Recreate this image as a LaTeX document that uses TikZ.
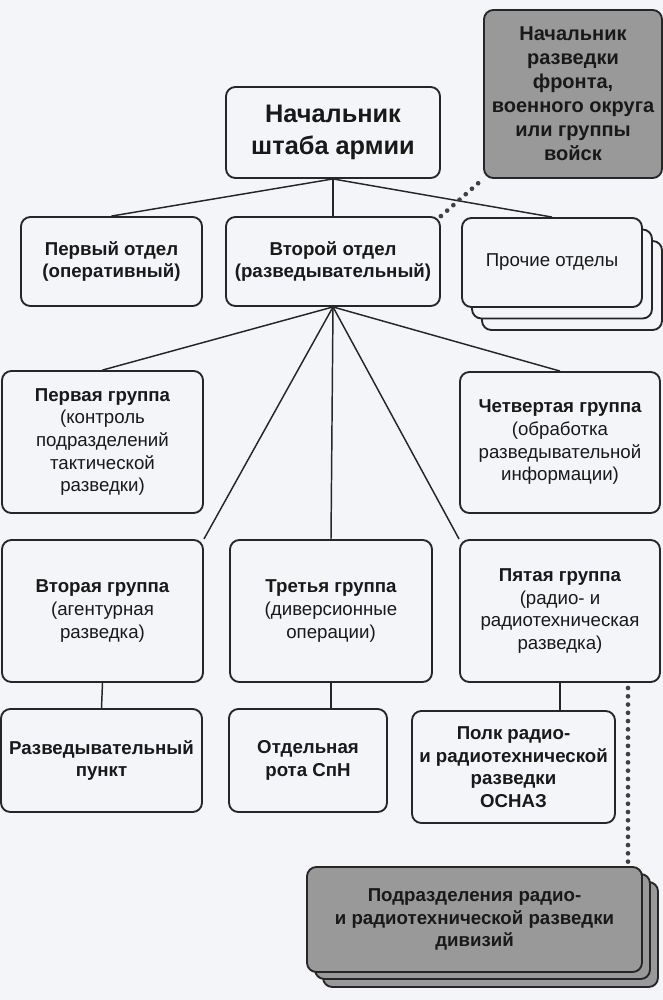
\documentclass[tikz,border=0pt]{standalone}
\usepackage{fontspec}
\setmainfont{Liberation Sans}
\usetikzlibrary{calc}

\definecolor{paper}{RGB}{244,245,248}

\tikzset{
  box/.style={draw=black!85, line width=1.4pt, rounded corners=7pt, fill=paper,
    align=center, inner sep=2pt, text=black!90, font=\fontsize{14}{17}\selectfont},
  greybox/.style={box, fill=black!40},
  wh/.style 2 args={minimum width=#1*0.75pt, minimum height=#2*0.75pt},
  link/.style={draw=black!85, line width=1.1pt},
  dots/.style={draw=black!75, line width=3.5pt, line cap=round, dash pattern=on 0pt off 6.2pt},
}

\begin{document}
\begin{tikzpicture}[x=0.75pt,y=-0.75pt]
  \fill[paper] (0,0) rectangle (663,1000);
  \useasboundingbox (0,0) rectangle (663,1000);

  % top level
  \node[box,wh={214}{91},font=\bfseries\fontsize{19}{24}\selectfont] (chief) at (333,132.5) {Начальник\\штаба армии};
  \node[greybox,wh={178}{168},font=\bfseries\fontsize{15}{18}\selectfont] (front) at (573,94)
    {Начальник\\разведки\\фронта,\\военного округа\\или группы\\войск};

  % departments
  \node[box,wh={181}{89},font=\bfseries\fontsize{14}{17}\selectfont] (otd1) at (111.5,261.5) {Первый отдел\\(оперативный)};
  \node[box,wh={214}{89},font=\bfseries\fontsize{14}{17}\selectfont] (otd2) at (333,261.5) {Второй отдел\\(разведывательный)};
  \node[box,wh={180}{89}] (prochieC) at (572,285.5) {};
  \node[box,wh={180}{89}] (prochieB) at (562,274) {};
  \node[box,wh={180}{89}] (prochie) at (552,262.5) {Прочие отделы};

  % groups
  \node[box,wh={201}{142}] (gr1) at (102.5,442) {{\bfseries Первая группа}\\(контроль\\подразделений\\тактической\\разведки)};
  \node[box,wh={200}{141}] (gr4) at (560,442.5) {{\bfseries Четвертая группа}\\(обработка\\разведывательной\\информации)};
  \node[box,wh={201}{142}] (gr2) at (102.5,611) {{\bfseries Вторая группа}\\(агентурная\\разведка)};
  \node[box,wh={202}{142}] (gr3) at (331,611) {{\bfseries Третья группа}\\(диверсионные\\операции)};
  \node[box,wh={200}{142}] (gr5) at (560,611) {{\bfseries Пятая группа}\\(радио- и\\радиотехническая\\разведка)};

  % units
  \node[box,wh={201}{103},font=\bfseries\fontsize{14}{17}\selectfont] (punkt) at (101.5,760.5) {Разведывательный\\пункт};
  \node[box,wh={158}{103},font=\bfseries\fontsize{14}{17}\selectfont] (rota) at (308,760.5) {Отдельная\\рота СпН};
  \node[box,wh={203}{112},font=\bfseries\fontsize{14}{17}\selectfont] (polk) at (513.5,767) {Полк радио-\\и радиотехнической\\разведки\\ОСНАЗ};

  \node[greybox,wh={335}{105}] (podrC) at (490.5,934.5) {};
  \node[greybox,wh={335}{105}] (podrB) at (482.5,926.5) {};
  \node[greybox,wh={335}{105},font=\bfseries\fontsize{14}{17}\selectfont] (podr) at (474.5,919.5)
    {Подразделения радио-\\и радиотехнической разведки\\дивизий};

  % links
  \draw[link] (chief.south) -- (otd1.north);
  \draw[link] (chief.south) -- (otd2.north);
  \draw[link] (chief.south) -- (prochie.north);
  \draw[link] (otd2.south) -- (gr1.north);
  \draw[link] (otd2.south) -- (gr2.north east);
  \draw[link] (otd2.south) -- (gr3.north);
  \draw[link] (otd2.south) -- (gr5.north west);
  \draw[link] (otd2.south) -- (gr4.north);
  \draw[link] (gr2.south) -- (punkt.north);
  \draw[link] (gr3.south) -- (gr3.south |- rota.north);
  \draw[link] (gr5.south) -- (gr5.south |- polk.north);

  % dotted links
  \coordinate (dtop) at (628,688);
  \draw[dots] (otd2.north east) -- (front.south west);
  \draw[dots] (dtop) -- (dtop |- podr.north);
\end{tikzpicture}
\end{document}
